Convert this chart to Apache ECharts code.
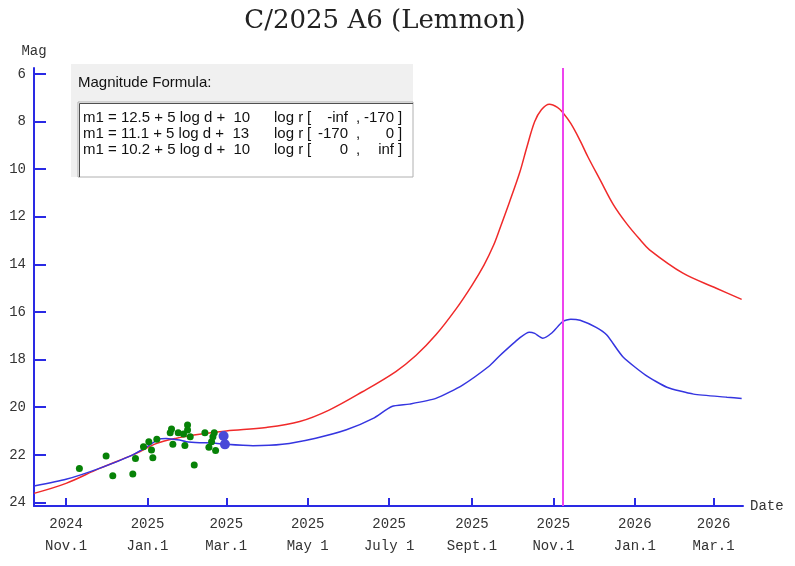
<!DOCTYPE html>
<html><head><meta charset="utf-8">
<script src="https://cdn.jsdelivr.net/npm/echarts@6/dist/echarts.min.js"></script>
<style>html,body{margin:0;padding:0;background:#fff}#c{width:795px;height:566px}</style>
</head><body><div id="c"></div>
<script>
const chartTitle = 'C/2025 A6 (Lemmon)';
const xStart = '2024-10-08';
const xEnd = '2026-03-23';
const tickDates = ['2024-11-01','2025-01-01','2025-03-01','2025-05-01','2025-07-01','2025-09-01','2025-11-01','2026-01-01','2026-03-01'];
const tickLabels = ['2024\nNov.1','2025\nJan.1','2025\nMar.1','2025\nMay 1','2025\nJuly 1','2025\nSept.1','2025\nNov.1','2026\nJan.1','2026\nMar.1'];
const yTicks = [6,8,10,12,14,16,18,20,22,24];

const redDates = ['2024-10-08','2024-11-01','2024-11-26','2024-12-21','2025-01-08','2025-01-22','2025-02-09','2025-03-01','2025-03-31','2025-04-25','2025-05-17','2025-06-11','2025-07-06','2025-07-21','2025-08-05','2025-08-20','2025-09-01','2025-09-10','2025-09-17','2025-09-22','2025-09-29','2025-10-07','2025-10-12','2025-10-18','2025-10-23','2025-10-29','2025-11-04','2025-11-08','2025-11-14','2025-11-21','2025-11-27','2025-12-06','2025-12-16','2025-12-26','2026-01-05','2026-01-12','2026-02-06','2026-03-03','2026-03-22'];
const redMag = [23.62,23.2,22.57,22.0,21.52,21.31,21.14,21.0,20.85,20.6,20.12,19.35,18.5,17.83,16.96,15.88,14.88,14.03,13.22,12.48,11.4,10.1,9.1,8.0,7.5,7.27,7.4,7.62,8.08,8.8,9.5,10.45,11.5,12.3,12.97,13.39,14.37,15.0,15.47];

const blueDates = ['2024-10-08','2024-11-01','2024-11-26','2024-12-21','2024-12-31','2025-01-10','2025-01-15','2025-01-25','2025-01-30','2025-02-09','2025-02-19','2025-03-01','2025-03-21','2025-04-12','2025-05-07','2025-05-30','2025-06-19','2025-07-03','2025-07-16','2025-08-05','2025-08-25','2025-09-14','2025-09-21','2025-10-07','2025-10-14','2025-10-18','2025-10-24','2025-10-31','2025-11-08','2025-11-14','2025-11-21','2025-12-03','2025-12-11','2025-12-23','2026-01-09','2026-01-25','2026-02-14','2026-03-11','2026-03-22'];
const blueMag = [23.31,23.03,22.57,22.0,21.68,21.33,21.31,21.38,21.45,21.49,21.5,21.56,21.62,21.56,21.3,20.95,20.47,19.97,19.87,19.63,19.07,18.27,17.88,17.08,16.85,16.9,17.1,16.87,16.4,16.3,16.35,16.65,16.97,17.88,18.65,19.16,19.45,19.58,19.63];

const obsDates = ['2024-11-11','2024-12-01','2024-12-06','2024-12-21','2024-12-23','2024-12-29','2025-01-02','2025-01-04','2025-01-05','2025-01-08','2025-01-18','2025-01-19','2025-01-20','2025-01-24','2025-01-28','2025-01-29','2025-01-31','2025-01-31','2025-02-02','2025-02-05','2025-02-13','2025-02-16','2025-02-18','2025-02-19','2025-02-20','2025-02-21'];
const obsMag = [22.57,22.05,22.88,22.81,22.15,21.66,21.45,21.8,22.12,21.35,21.07,20.92,21.56,21.07,21.13,21.61,20.75,20.96,21.24,22.43,21.07,21.68,21.45,21.24,21.07,21.82];
const obsBlueDates = ['2025-02-27','2025-02-28'];
const obsBlueMag = [21.21,21.56];
const nowDate = '2025-11-08';

const formulaHeader = 'Magnitude Formula:';
const formulaMain = ['m1 = 12.5 + 5 log d +  10','m1 = 11.1 + 5 log d +  13','m1 = 10.2 + 5 log d +  10'];
const formulaLog = ['log r','log r','log r'];
const rangeFrom = ['-inf','-170','0'];
const rangeTo = ['-170','0','inf'];

const EPOCH = Date.UTC(2024,10,1);
function day(s){const p=s.split('-');return (Date.UTC(+p[0],+p[1]-1,+p[2])-EPOCH)/86400000;}
const tickDays = tickDates.map(day);
const pair = (ds,vs)=>ds.map((d,i)=>[day(d),vs[i]]);

const AX = '#2a2ae4';
const MONO = '"Liberation Mono", monospace';
const SANS = '"Liberation Sans", Arial, sans-serif';
const labelColor = '#333';
const FF = '15px ' + SANS;

const graphics = [
  {type:'rect', silent:true, shape:{x:71,y:64,width:342,height:113}, style:{fill:'#f0f0f0'}},
  {type:'text', silent:true, x:78, y:83, style:{text:formulaHeader, font:FF, fill:'#111', verticalAlign:'middle'}},
  {type:'rect', silent:true, shape:{x:78,y:102,width:335,height:75}, style:{fill:'#fff', stroke:'#b0b0b0', lineWidth:1}},
  {type:'polyline', silent:true, shape:{points:[[79.5,177],[79.5,103.5],[413,103.5]]}, style:{stroke:'#505050', lineWidth:1, fill:null}},
  {type:'text', silent:true, x:385, y:21, style:{text:chartTitle, font:'26px "DejaVu Serif", serif', fill:'#222', align:'center', verticalAlign:'middle'}}
];
formulaMain.forEach((t,i)=>{
  const y = 117.5 + 16*i;
  const st = (text,x,align)=>({type:'text', silent:true, x:x, y:y, style:{text:text, font:FF, fill:'#111', align:align, verticalAlign:'middle'}});
  graphics.push(st(t,83,'left'));
  graphics.push(st(formulaLog[i],274,'left'));
  graphics.push(st('[',307,'left'));
  graphics.push(st(rangeFrom[i],348,'right'));
  graphics.push(st(',',356,'left'));
  graphics.push(st(rangeTo[i],394,'right'));
  graphics.push(st(']',398,'left'));
});

const chart = echarts.init(document.getElementById('c'));
chart.setOption({
  animation:false,
  backgroundColor:'#fff',
  grid:{left:34, right:52, top:68, bottom:60, containLabel:false},
  xAxis:{
    type:'value', min:day(xStart), max:day(xEnd),
    name:'Date', nameLocation:'end', nameGap:7,
    nameTextStyle:{fontFamily:MONO, fontSize:14, color:labelColor},
    axisLine:{show:true, onZero:false, lineStyle:{color:AX, width:2}},
    axisTick:{show:true, inside:true, length:8, customValues:tickDays, lineStyle:{color:AX, width:2}},
    axisLabel:{customValues:tickDays, fontFamily:MONO, fontSize:14, color:labelColor, lineHeight:22, margin:7,
      formatter:(v)=>{const i=tickDays.indexOf(v);return i>=0?tickLabels[i]:'';}},
    splitLine:{show:false}
  },
  yAxis:{
    type:'value', inverse:true, min:5.75, max:24.15,
    name:'Mag', nameLocation:'start', nameGap:10,
    nameTextStyle:{fontFamily:MONO, fontSize:14, color:labelColor},
    axisLine:{show:true, onZero:false, lineStyle:{color:AX, width:2}},
    axisTick:{show:true, inside:true, length:12, customValues:yTicks, lineStyle:{color:AX, width:2}},
    axisLabel:{customValues:yTicks, fontFamily:MONO, fontSize:14, color:labelColor, margin:8},
    splitLine:{show:false}
  },
  series:[
    {type:'line', name:'m1', data:pair(redDates,redMag), showSymbol:false, smooth:0.35,
      lineStyle:{color:'#f02a2a', width:1.5}, itemStyle:{color:'#f02a2a'},
      markLine:{silent:true, symbol:'none', label:{show:false},
        lineStyle:{color:'#ee44ee', width:2, type:'solid'}, data:[{xAxis:day(nowDate)}]}},
    {type:'line', name:'m2', data:pair(blueDates,blueMag), showSymbol:false, smooth:0.2,
      lineStyle:{color:'#3535e0', width:1.5}, itemStyle:{color:'#3535e0'}},
    {type:'scatter', name:'obs', data:pair(obsDates,obsMag), symbolSize:7, itemStyle:{color:'#078207', opacity:1}, z:3},
    {type:'scatter', name:'obs2', data:pair(obsBlueDates,obsBlueMag), symbolSize:10, itemStyle:{color:'#4848d8', opacity:1}, z:3}
  ],
  graphic:graphics
});
</script></body></html>
